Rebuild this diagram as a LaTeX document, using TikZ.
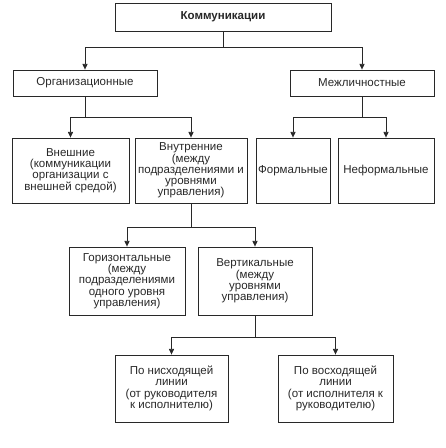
\documentclass[tikz,border=0pt]{standalone}
\usepackage{fontspec}
\setmainfont{Liberation Sans}
\usetikzlibrary{positioning,arrows.meta,calc}
\definecolor{InkGray}{RGB}{40,40,40}

\begin{document}
\begin{tikzpicture}[every node/.style={font=\fontsize{8.2}{8.0}\selectfont, align=center, text=InkGray},
  box/.style={draw=InkGray, line width=0.6pt, inner sep=0pt},
  conn/.style={-{Triangle[length=4pt,width=3.6pt]}, InkGray, line width=0.5pt}]
  \useasboundingbox (0,0) rectangle (11.15,-11.2);
  % top level
  \node[box, minimum width=5.4cm, minimum height=0.70cm] (komm) at (5.575,-0.425) {\textbf{Коммуникации}};
  \node[box, minimum width=3.6cm, minimum height=0.65cm] (org) at (2.125,-2.075) {Организационные};
  \node[box, minimum width=3.6cm, minimum height=0.65cm] (mezh) at (9.05,-2.075) {Межличностные};
  % third row
  \node[box, minimum width=2.925cm, minimum height=1.625cm] (vnesh) at (1.7625,-4.2625) {Внешние\\(коммуникации\\организации с\\внешней средой)};
  \node[box, minimum width=2.8cm, minimum height=1.625cm] (vnutr) at (4.775,-4.2625) {Внутренние\\(между\\подразделениями и\\уровнями\\управления)};
  \node[box, minimum width=1.85cm, minimum height=1.625cm] (form) at (7.325,-4.2625) {Формальные};
  \node[box, minimum width=2.4cm, minimum height=1.625cm] (neform) at (9.65,-4.2625) {Неформальные};
  % fourth row
  \node[box, minimum width=2.9cm, minimum height=1.7cm] (goriz) at (3.175,-7.025) {Горизонтальные\\(между\\подразделениями\\одного уровня\\управления)};
  \node[box, minimum width=2.85cm, minimum height=1.7cm] (vert) at (6.375,-7.025) {Вертикальные\\(между\\уровнями\\управления)};
  % bottom row
  \node[box, minimum width=2.825cm, minimum height=1.675cm] (nisx) at (4.2875,-9.7125) {По нисходящей\\линии\\(от руководителя\\к исполнителю)};
  \node[box, minimum width=2.875cm, minimum height=1.675cm] (vosx) at (8.3875,-9.7125) {По восходящей\\линии\\(от исполнителя к\\руководителю)};
  % connectors
  \draw[InkGray, line width=0.5pt] (komm.south) -- ++(0,-0.4) coordinate (bus1);
  \draw[conn] (bus1) -| (org.north);
  \draw[conn] (bus1) -| (mezh.north);
  \draw[InkGray, line width=0.5pt] (org.south) -- ++(0,-0.525) coordinate (bus2);
  \draw[conn] (bus2) -| (vnesh.north);
  \draw[conn] (bus2) -| (vnutr.north);
  \draw[InkGray, line width=0.5pt] (mezh.south) -- ++(0,-0.525) coordinate (bus3);
  \draw[conn] (bus3) -| (form.north);
  \draw[conn] (bus3) -| (neform.north);
  \draw[InkGray, line width=0.5pt] (vnutr.south) -- ++(0,-0.6) coordinate (bus4);
  \draw[conn] (bus4) -| (goriz.north);
  \draw[conn] (bus4) -| (vert.north);
  \draw[InkGray, line width=0.5pt] (vert.south) -- ++(0,-0.55) coordinate (bus5);
  \draw[conn] (bus5) -| (nisx.north);
  \draw[conn] (bus5) -| (vosx.north);
\end{tikzpicture}
\end{document}
